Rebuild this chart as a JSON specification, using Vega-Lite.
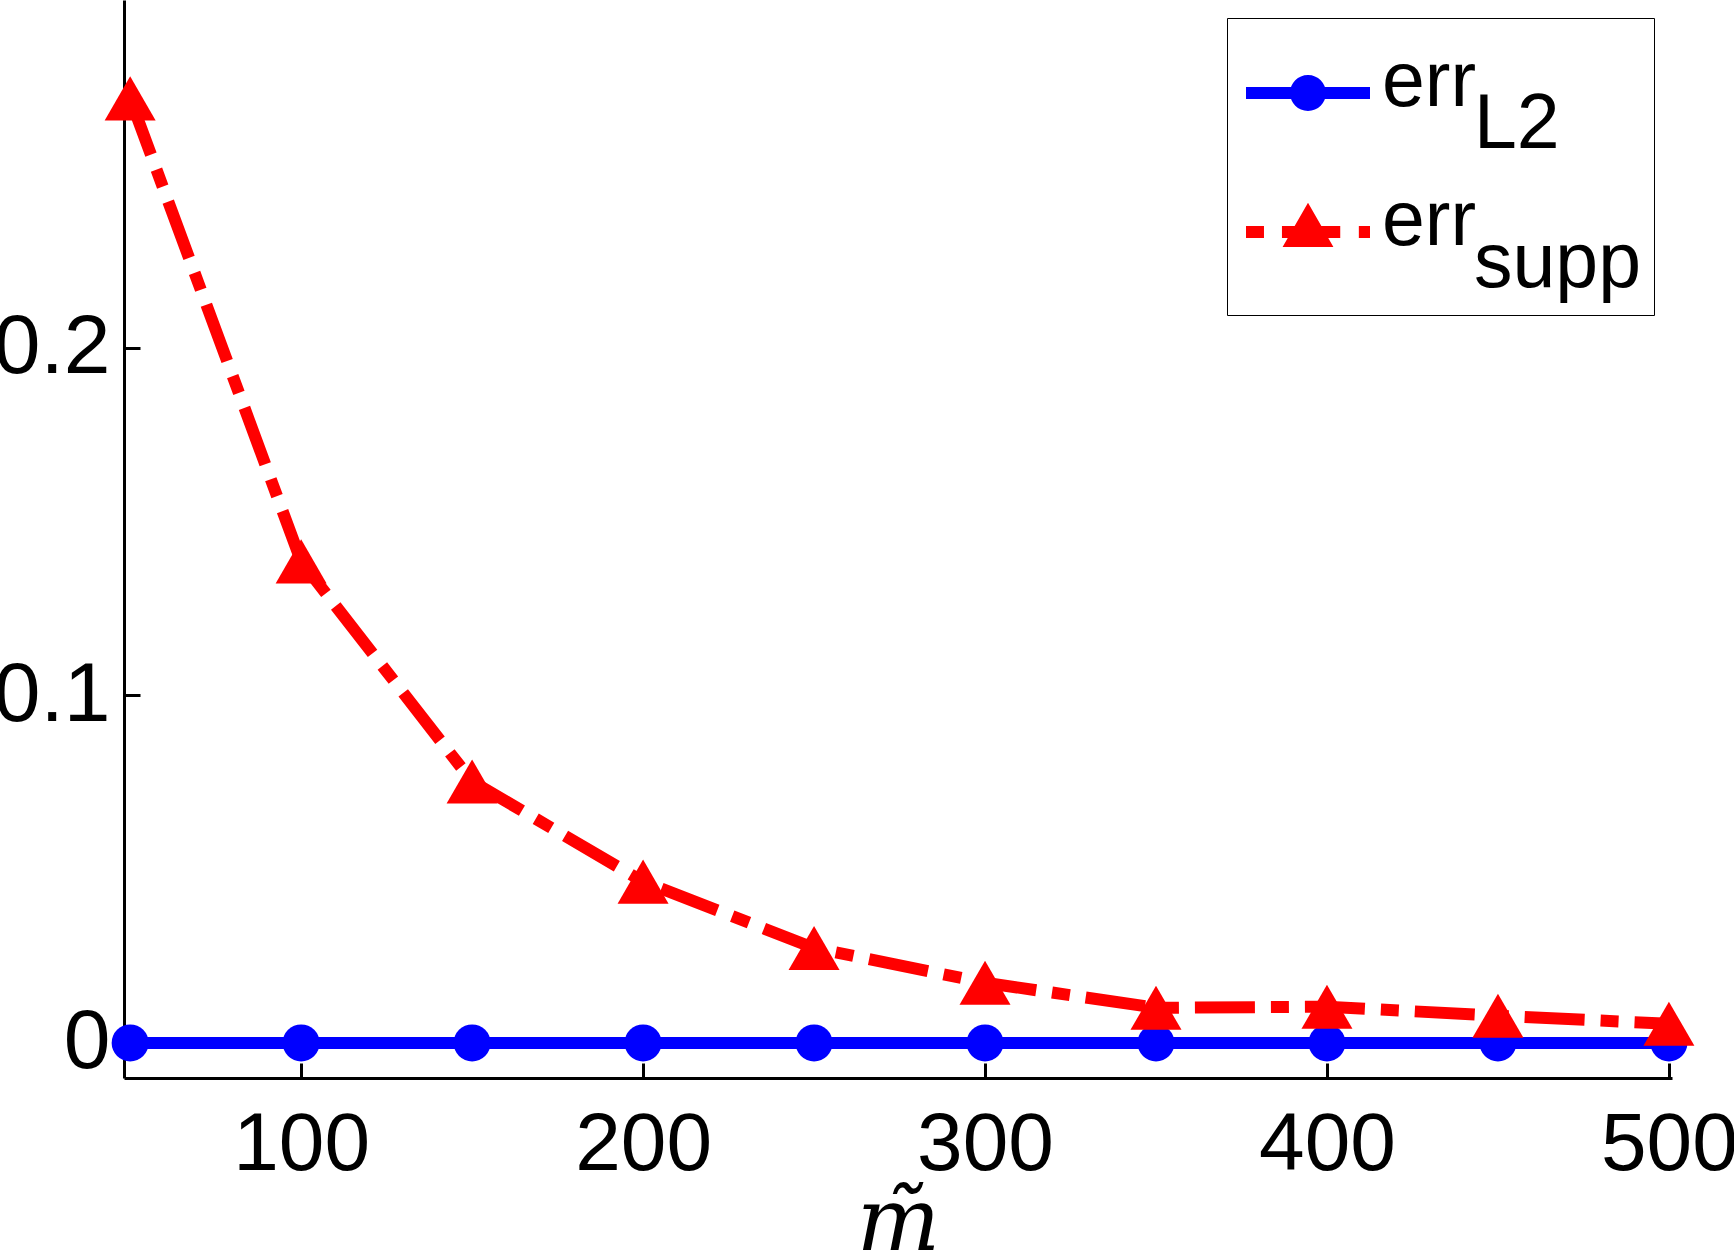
{
  "$schema": "https://vega.github.io/schema/vega-lite/v6.json",
  "width": 1548,
  "height": 1078,
  "autosize": {"type": "none"},
  "padding": {"left": 124, "top": 0, "right": 62, "bottom": 177},
  "background": "white",
  "config": {"view": {"stroke": null}},
  "data": {
    "values": [
      {"m": 50, "series": "L2", "err": 0},
      {"m": 100, "series": "L2", "err": 0},
      {"m": 150, "series": "L2", "err": 0},
      {"m": 200, "series": "L2", "err": 0},
      {"m": 250, "series": "L2", "err": 0},
      {"m": 300, "series": "L2", "err": 0},
      {"m": 350, "series": "L2", "err": 0},
      {"m": 400, "series": "L2", "err": 0},
      {"m": 450, "series": "L2", "err": 0},
      {"m": 500, "series": "L2", "err": 0},
      {"m": 50, "series": "supp", "err": 0.2717},
      {"m": 100, "series": "supp", "err": 0.1385},
      {"m": 150, "series": "supp", "err": 0.0752},
      {"m": 200, "series": "supp", "err": 0.0464},
      {"m": 250, "series": "supp", "err": 0.0273},
      {"m": 300, "series": "supp", "err": 0.0173},
      {"m": 350, "series": "supp", "err": 0.0101},
      {"m": 400, "series": "supp", "err": 0.0104},
      {"m": 450, "series": "supp", "err": 0.0078},
      {"m": 500, "series": "supp", "err": 0.0055}
    ]
  },
  "encoding": {
    "x": {
      "field": "m",
      "type": "quantitative",
      "title": "m\u0303",
      "scale": {"domain": [48.2, 500.9], "nice": false, "zero": false},
      "axis": {
        "values": [100, 200, 300, 400, 500],
        "grid": false,
        "domainColor": "black",
        "domainWidth": 3,
        "tickColor": "black",
        "tickWidth": 3,
        "tickSize": -15,
        "labelPadding": 41,
        "labelFont": "Liberation Sans",
        "labelFontSize": 82,
        "labelColor": "black",
        "labelFlush": false,
        "labelOverlap": false,
        "titleFont": "DejaVu Serif",
        "titleFontStyle": "italic",
        "titleFontWeight": "normal",
        "titleFontSize": 88,
        "titleColor": "black",
        "titlePadding": -6
      }
    },
    "y": {
      "field": "err",
      "type": "quantitative",
      "title": null,
      "scale": {"domain": [-0.0101, 0.3], "nice": false, "zero": false},
      "axis": {
        "values": [0, 0.1, 0.2],
        "format": "~g",
        "grid": false,
        "domainColor": "black",
        "domainWidth": 3,
        "tickColor": "black",
        "tickWidth": 3,
        "tickSize": -16,
        "labelPadding": 30,
        "labelFont": "Liberation Sans",
        "labelFontSize": 84,
        "labelColor": "black"
      }
    }
  },
  "layer": [
    {
      "transform": [{"filter": "datum.series == 'L2'"}],
      "mark": {"type": "line", "color": "#0000ff", "strokeWidth": 12}
    },
    {
      "transform": [{"filter": "datum.series == 'L2'"}],
      "mark": {"type": "point", "shape": "circle", "filled": true, "size": 1369, "color": "#0000ff", "opacity": 1}
    },
    {
      "transform": [{"filter": "datum.series == 'supp'"}],
      "mark": {"type": "line", "color": "#ff0000", "strokeWidth": 12, "strokeDash": [60, 16, 18, 16], "strokeCap": "butt"}
    },
    {
      "transform": [{"filter": "datum.series == 'supp'"}],
      "mark": {"type": "point", "shape": "triangle-up", "filled": true, "size": 2600, "color": "#ff0000", "opacity": 1}
    },
    {
      "mark": {"type": "point", "filled": true, "opacity": 0},
      "encoding": {
        "color": {
          "field": "series",
          "type": "nominal",
          "scale": {"domain": ["L2", "supp"], "range": ["#0000ff", "#ff0000"]},
          "legend": {
            "title": null,
            "orient": "top-right",
            "offset": 18,
            "padding": 13,
            "rowPadding": 7,
            "symbolSize": 15376,
            "symbolOffset": 6,
            "symbolStrokeWidth": 0,
            "symbolOpacity": 1,
            "labelFont": "Liberation Sans",
            "labelFontSize": 77,
            "labelColor": "black",
            "labelOffset": 12,
            "labelLimit": 500,
            "strokeColor": "black",
            "fillColor": "white",
            "labelExpr": "datum.label == 'L2' ? ['err', '\u200d\u00a0\u00a0\u00a0\u00a0\u200aL2'] : ['err', '\u200d\u00a0\u00a0\u00a0\u00a0\u200asupp']",
            "encode": {"labels": {"update": {"lineHeight": {"value": 42}, "dy": {"value": -10}}}}
          }
        },
        "shape": {
          "field": "series",
          "type": "nominal",
          "scale": {
            "domain": ["L2", "supp"],
            "range": [
              "M-1,-0.097L1,-0.097L1,0.097L-1,0.097Z M0.29,0A0.29,0.29,0,1,1,-0.29,0A0.29,0.29,0,1,1,0.29,0Z",
              "M-1,-0.095L-0.71,-0.095L-0.71,0.095L-1,0.095Z M-0.42,-0.095L0.52,-0.095L0.52,0.095L-0.42,0.095Z M0.82,-0.095L1,-0.095L1,0.095L0.82,0.095Z M0,-0.47L0.41,0.24L-0.41,0.24Z"
            ]
          },
          "legend": {
            "title": null,
            "orient": "top-right",
            "offset": 18,
            "padding": 13,
            "rowPadding": 7,
            "symbolSize": 15376,
            "symbolOffset": 6,
            "symbolStrokeWidth": 0,
            "symbolOpacity": 1,
            "labelFont": "Liberation Sans",
            "labelFontSize": 77,
            "labelColor": "black",
            "labelOffset": 12,
            "labelLimit": 500,
            "strokeColor": "black",
            "fillColor": "white",
            "labelExpr": "datum.label == 'L2' ? ['err', '\u200d\u00a0\u00a0\u00a0\u00a0\u200aL2'] : ['err', '\u200d\u00a0\u00a0\u00a0\u00a0\u200asupp']",
            "encode": {"labels": {"update": {"lineHeight": {"value": 42}, "dy": {"value": -10}}}}
          }
        }
      }
    }
  ]
}
